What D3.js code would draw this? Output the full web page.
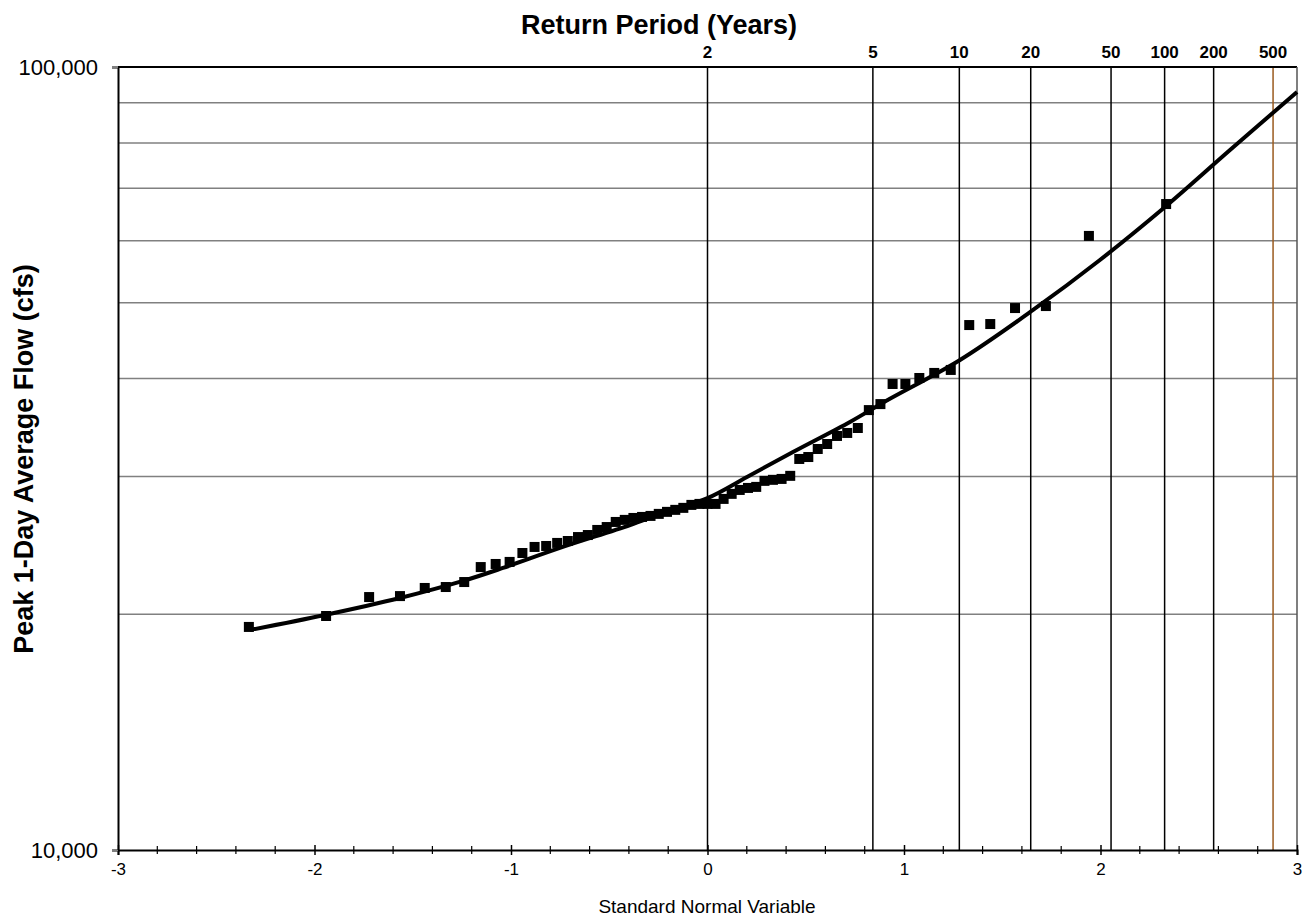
<!DOCTYPE html>
<html><head><meta charset="utf-8">
<script src="https://cdn.jsdelivr.net/npm/d3@7"></script>
<style>body{margin:0;background:#fff}svg{display:block}text{font-family:"Liberation Sans",Arial,sans-serif}</style>
</head><body>
<svg id="chart" width="1306" height="918"></svg>
<script>
// Observed annual peaks: standard normal variable (plotting position) and flow (cfs)
const obsZ = [-2.334,-1.941,-1.722,-1.565,-1.439,-1.332,-1.238,-1.154,-1.078,-1.007,
  -0.942,-0.880,-0.821,-0.765,-0.711,-0.659,-0.609,-0.561,-0.513,-0.467,
  -0.421,-0.377,-0.333,-0.290,-0.248,-0.206,-0.164,-0.123,-0.082,-0.041,0,
  0.041,0.082,0.123,0.164,0.206,0.248,0.290,0.333,0.377,0.421,
  0.467,0.513,0.561,0.609,0.659,0.711,0.765,0.821,0.880,0.942,
  1.007,1.078,1.154,1.238,1.332,1.439,1.565,1.722,1.941,2.334];
const obsFlow = [19270,19900,21040,21100,21610,21670,21990,22980,23190,23330,
  23950,24380,24450,24670,24810,25100,25250,25630,25850,26240,
  26400,26550,26630,26710,26870,27030,27190,27350,27590,27670,27670,
  27670,28080,28500,28830,29000,29090,29610,29700,29780,30050,
  31580,31760,32520,33000,33790,34090,34590,36460,37110,39370,
  39370,40070,40670,41030,46820,46960,49220,49510,60850,66830];
// Fitted frequency curve
const fitZ    = [-2.328,-1.947,-1.565,-1.244,-1.041,-0.751,-0.394,-0.242,0,0.201,0.435,0.725,0.908,1.285,1.657,1.997,2.328,2.659,3.0];
const fitFlow = [19100,19960,20980,22060,22920,24310,26000,26860,28150,29950,32230,35210,37450,42250,48940,56690,66250,78340,92910];
// Return periods (years) and their standard normal variates
const rpLabels = ["2","5","10","20","50","100","200","500"];
const rpZ = [0,0.8416,1.2816,1.6449,2.0537,2.3263,2.5758,2.8782];
const rpColors = ["#000","#000","#000","#000","#000","#000","#000","#9a5a1e"];
// Axes
const xTicks = [-3,-2,-1,0,1,2,3];
const yTicks = [10000,100000];
const yGrid = [20000,30000,40000,50000,60000,70000,80000,90000];

const L=118,R=1297,T=67,B=850;
const svg=d3.select("#chart");
const x=d3.scaleLinear().domain([-3,3]).range([L,R]);
const y=d3.scaleLog().domain([10000,100000]).range([B,T]);

// horizontal gridlines
svg.append("g").selectAll("line").data(yGrid).join("line")
  .attr("x1",L).attr("x2",R).attr("y1",d=>y(d)).attr("y2",d=>y(d))
  .attr("stroke","#808080").attr("stroke-width",1.5);

// return-period vertical lines
svg.append("g").selectAll("line").data(rpZ).join("line")
  .attr("x1",d=>x(d)).attr("x2",d=>x(d)).attr("y1",T).attr("y2",B)
  .attr("stroke",(d,i)=>rpColors[i]).attr("stroke-width",1.5);

// return-period labels
svg.append("g").selectAll("text").data(rpZ).join("text")
  .attr("x",d=>x(d)).attr("y",58).attr("text-anchor","middle")
  .attr("font-size",17).attr("font-weight","bold").text((d,i)=>rpLabels[i]);

svg.append("text").attr("x",659).attr("y",34).attr("text-anchor","middle")
  .attr("font-size",27).attr("font-weight","bold").text("Return Period (Years)");

// frame: top, right
svg.append("line").attr("x1",L).attr("x2",R).attr("y1",T).attr("y2",T).attr("stroke","#000").attr("stroke-width",2);
svg.append("line").attr("x1",R).attr("x2",R).attr("y1",T).attr("y2",B).attr("stroke","#555").attr("stroke-width",1.5);

// x axis
const xAxis=d3.axisBottom(x).tickValues(xTicks).tickFormat(d=>String(d)).tickSize(5).tickPadding(8);
const gx=svg.append("g").attr("transform",`translate(0,${B})`).call(xAxis);
gx.select(".domain").attr("stroke","#000").attr("stroke-width",2);
gx.selectAll(".tick line").attr("y1",-5).attr("stroke-width",1.5);
gx.selectAll(".tick text").attr("font-size",17).attr("fill","#000").style("font-family","Liberation Sans, Arial, sans-serif");
// minor ticks
const minor=d3.range(-30,31,2).map(v=>v/10).filter(v=>!xTicks.includes(v));
svg.append("g").selectAll("line").data(minor).join("line")
  .attr("x1",d=>x(d)).attr("x2",d=>x(d)).attr("y1",B-4).attr("y2",B+4)
  .attr("stroke","#000").attr("stroke-width",1.2);

// y axis
const yAxis=d3.axisLeft(y).tickValues(yTicks).tickFormat(d3.format(",")).tickSize(6).tickPadding(14);
const gy=svg.append("g").attr("transform",`translate(${L},0)`).call(yAxis);
gy.select(".domain").attr("stroke","#000").attr("stroke-width",2);
gy.selectAll(".tick line").attr("stroke","#808080").attr("stroke-width",1.5);
gy.selectAll(".tick text").attr("font-size",22).attr("fill","#000").style("font-family","Liberation Sans, Arial, sans-serif");

// axis titles
svg.append("text").attr("transform","translate(33,459) rotate(-90)").attr("text-anchor","middle")
  .attr("font-size",27).attr("font-weight","bold").text("Peak 1-Day Average Flow (cfs)");
svg.append("text").attr("x",707).attr("y",913).attr("text-anchor","middle")
  .attr("font-size",19).text("Standard Normal Variable");

// fitted curve
const line=d3.line().x((d,i)=>x(fitZ[i])).y((d,i)=>y(fitFlow[i])).curve(d3.curveCatmullRom.alpha(0.5));
svg.append("path").datum(fitZ).attr("d",line).attr("fill","none").attr("stroke","#000").attr("stroke-width",4);

// observed points
svg.append("g").selectAll("rect").data(obsZ).join("rect")
  .attr("x",d=>x(d)-5).attr("y",(d,i)=>y(obsFlow[i])-5).attr("width",10).attr("height",10).attr("fill","#000");
</script>
</body></html>
